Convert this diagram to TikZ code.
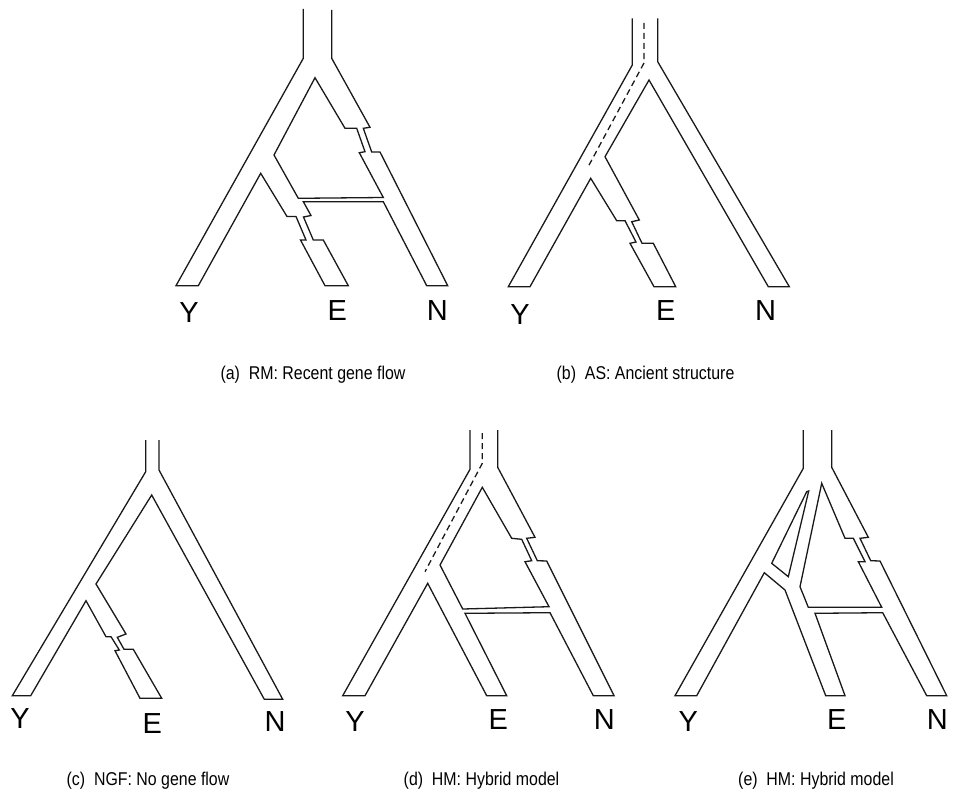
\documentclass[tikz,border=0pt]{standalone}
\usepackage{fontspec}
\setmainfont{Liberation Sans}
\newfontfamily\capfont[FakeStretch=0.86]{Liberation Sans}
\newfontfamily\taxfont{Liberation Sans}
\begin{document}
\begin{tikzpicture}[x=1pt,y=-1pt]
\tikzset{
  outline/.style={line width=1.3pt, line join=miter, draw=black!90},
  dashline/.style={line width=1.3pt, draw=black!90, dash pattern=on 6pt off 4pt},
  taxon/.style={font=\fontsize{29}{29}\taxfont, inner sep=0pt},
  capt/.style={font=\fontsize{18.5}{18.5}\capfont, inner sep=0pt}
}
\useasboundingbox (0,0) rectangle (957,800);

% ---------------- panel (a) ----------------
\draw[outline] (303.3,9) -- (303.3,58.3) -- (176,285.7) -- (198.3,285.7) -- (260.7,173.3)
  -- (287,216.5) -- (296,216.5) -- (306,240) -- (300.5,240) -- (325,285.7) -- (348.3,285.7)
  -- (323.3,240) -- (313.3,240) -- (303.5,217) -- (311,215.5) -- (303.3,201.7) -- (383.3,201.7)
  -- (426.7,285.7) -- (447.7,285.7) -- (380,152) -- (371.7,152) -- (363.3,128.3) -- (370,127.3)
  -- (331.7,58.3) -- (331.7,10);
\draw[outline] (383.3,197.5) -- (359.3,152.7) -- (365,151.7) -- (356.7,128.3) -- (345,128.3)
  -- (315,77.7) -- (274,155) -- (298.3,198.3) -- cycle;
\node[taxon] (aY) at (189,312.5) {Y};
\node[taxon] (aE) at (337.3,311) {E};
\node[taxon] (aN) at (437.3,311) {N};
\node[capt] (capa) at (313,375) {(a)\ \ RM: Recent gene flow};

% ---------------- panel (b) ----------------
\draw[outline] (632.3,18.3) -- (632.3,65) -- (508.3,286.7) -- (530,286.7) -- (590.7,178.3)
  -- (616.7,220.7) -- (625,220.7) -- (636,242) -- (630,243.3) -- (654,286.7) -- (675.7,286.7)
  -- (653.3,243.3) -- (642,243.3) -- (631.7,221.7) -- (639.3,220) -- (605,156.7) -- (649,80)
  -- (768.3,286.7) -- (789.3,286.7) -- (657.7,61.7) -- (657.7,18.3);
\draw[dashline] (644,23) -- (644,63) -- (587.3,168.3);
\node[taxon] (bY) at (520,315) {Y};
\node[taxon] (bE) at (665.7,311) {E};
\node[taxon] (bN) at (765.7,311) {N};
\node[capt] (capb) at (645.5,375) {(b)\ \ AS: Ancient structure};

% ---------------- panel (c) ----------------
\draw[outline] (145.7,440) -- (145.7,471.7) -- (12.3,695.7) -- (30.7,695.7) -- (86,600.7)
  -- (106,636.7) -- (111,636.7) -- (119.3,650) -- (115,650.7) -- (140,698.3) -- (161.7,698.3)
  -- (133.3,649.3) -- (124,649.3) -- (117.3,637.3) -- (126,634) -- (96,584) -- (151.7,495)
  -- (264.3,699.3) -- (282.7,699.3) -- (159,470) -- (159,440);
\node[taxon] (cY) at (20,719) {Y};
\node[taxon] (cE) at (152.3,723.3) {E};
\node[taxon] (cN) at (275,721.7) {N};
\node[capt] (capc) at (148,781) {(c)\ \ NGF: No gene flow};

% ---------------- panel (d) ----------------
\draw[outline] (470,430) -- (470,469.3) -- (342.7,695.7) -- (365,695.7) -- (427.7,583.3)
  -- (486.7,695.7) -- (506.7,695.7) -- (465,613.3) -- (550,612.7) -- (593.3,695.7) -- (614,695.7)
  -- (546.7,561) -- (537.3,560.7) -- (526.7,538.3) -- (535,537.3) -- (497.7,467.3) -- (497.7,430);
\draw[outline] (549,606.7) -- (462.7,609) -- (440,565) -- (482.3,487.3) -- (511.7,538.3)
  -- (521.7,539.3) -- (531.7,560.7) -- (525,561.7) -- cycle;
\draw[dashline] (482.3,433) -- (482.3,463.3) -- (425,571.7);
\node[taxon] (dY) at (355,721.7) {Y};
\node[taxon] (dE) at (498.3,720) {E};
\node[taxon] (dN) at (604.3,720) {N};
\node[capt] (capd) at (481.5,781) {(d)\ \ HM: Hybrid model};

% ---------------- panel (e) ----------------
\draw[outline] (803.3,430) -- (803.3,468.3) -- (675,695.7) -- (696.7,695.7) -- (764.3,572.7)
  -- (785,590) -- (825.7,695.7) -- (845,695.7) -- (815,613.3) -- (882.7,612.7) -- (926.7,695.7)
  -- (946.7,695.7) -- (880,561) -- (870.7,560.7) -- (860,538.3) -- (868.3,537.3)
  -- (831.7,467.3) -- (831.7,430);
\draw[outline] (881.7,607.3) -- (808.3,607.3) -- (800,586.7) -- (821.7,483.3) -- (845,538.3)
  -- (853.3,538.3) -- (865,561.7) -- (858.3,561.7) -- cycle;
\draw[outline] (806.7,491.7) -- (808.7,491) -- (788.3,576.7) -- (771.7,563.3) -- cycle;
\node[taxon] (eY) at (688.3,721.7) {Y};
\node[taxon] (eE) at (836.7,720) {E};
\node[taxon] (eN) at (937.3,720) {N};
\node[capt] (cape) at (816,781) {(e)\ \ HM: Hybrid model};
\end{tikzpicture}
\end{document}
